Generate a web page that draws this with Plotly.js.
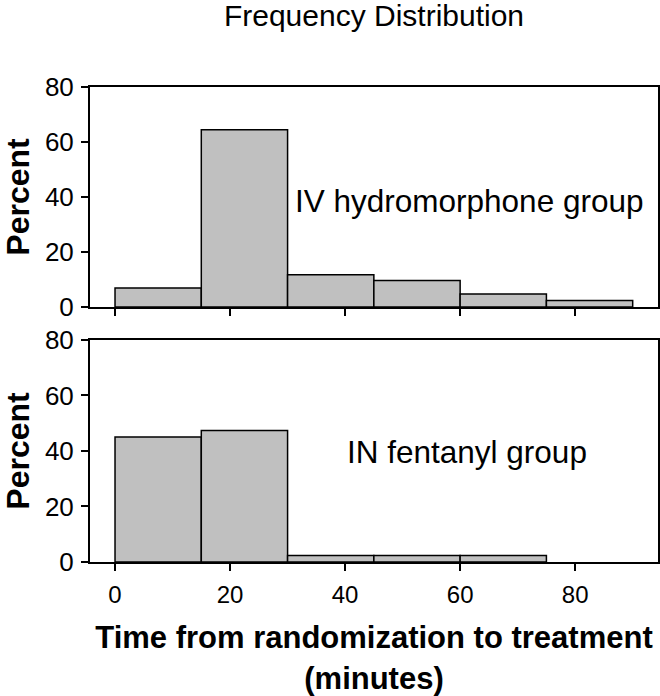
<!DOCTYPE html>
<html>
<head>
<meta charset="utf-8">
<script src="https://cdn.plot.ly/plotly-3.0.1.min.js"></script>
<style>html,body{margin:0;padding:0;background:#fff;}#chart{width:660px;height:696px;}</style>
</head>
<body>
<div id="chart"></div>
<script>
// Bin centers (minutes), 15-minute bins
const binCenters = [7.5, 22.5, 37.5, 52.5, 67.5, 82.5];
const binWidth = [15, 15, 15, 15, 15, 15];
// Percent per bin (null = empty bin, no bar drawn)
const ivHydromorphone = [6.9, 64.5, 11.7, 9.6, 4.7, 2.4];
const inFentanyl = [45.0, 47.4, 2.3, 2.3, 2.3, null];
const xTicks = [0, 20, 40, 60, 80];
const yTicks = [0, 20, 40, 60, 80];
const panelLabels = ["IV hydromorphone group", "IN fentanyl group"];

const FONT = "Liberation Sans, Arial, sans-serif";
const barStyle = {color: "#c0c0c0", line: {color: "#000", width: 1.5}};

const traces = [
  {type: "bar", x: binCenters, y: ivHydromorphone, width: binWidth, marker: barStyle, xaxis: "x", yaxis: "y", hoverinfo: "x+y"},
  {type: "bar", x: binCenters, y: inFentanyl, width: binWidth, marker: barStyle, xaxis: "x2", yaxis: "y2", hoverinfo: "x+y"}
];

const xRange = [-4.35, 94.4];
const axisCommon = {
  showgrid: false, zeroline: false, showline: true, linecolor: "#000", linewidth: 2,
  mirror: true, ticks: "outside", ticklen: 7, tickwidth: 2, tickcolor: "#000"
};

const layout = {
  width: 660, height: 696,
  margin: {l: 90, r: 2, t: 87, b: 134},
  paper_bgcolor: "#fff", plot_bgcolor: "#fff",
  showlegend: false, bargap: 0,
  font: {family: FONT, color: "#000"},
  title: {text: "Frequency Distribution", font: {family: FONT, size: 30, color: "#000"},
          x: 374 / 660, xanchor: "center", xref: "container", y: 1 - 15 / 696, yanchor: "middle", yref: "container", pad: {t: 0, b: 0}},
  xaxis: Object.assign({}, axisCommon, {domain: [0, 1], range: xRange, anchor: "y", tickvals: xTicks, showticklabels: false}),
  yaxis: Object.assign({}, axisCommon, {domain: [0.5368, 1], range: [0, 80], anchor: "x", tickvals: yTicks,
          tickfont: {size: 26, family: FONT}, ticklabelstandoff: 2,
          title: {text: "<b>Percent</b>", font: {size: 32, family: FONT}, standoff: 14}}),
  xaxis2: Object.assign({}, axisCommon, {domain: [0, 1], range: xRange, anchor: "y2", tickvals: xTicks,
          tickfont: {size: 24, family: FONT}, ticklabelstandoff: 3,
          title: {text: "<b>Time from randomization to treatment<br>(minutes)</b>", font: {size: 31, family: FONT}, standoff: 20}}),
  yaxis2: Object.assign({}, axisCommon, {domain: [0, 0.4674], range: [0, 80], anchor: "x2", tickvals: yTicks,
          tickfont: {size: 26, family: FONT}, ticklabelstandoff: 2,
          title: {text: "<b>Percent</b>", font: {size: 32, family: FONT}, standoff: 14}}),
  annotations: [
    {text: panelLabels[0], x: 31, y: 38.6, xref: "x", yref: "y", xanchor: "left", yanchor: "middle", showarrow: false, font: {size: 31.5, family: FONT, color: "#000"}},
    {text: panelLabels[1], x: 40, y: 39.5, xref: "x2", yref: "y2", xanchor: "left", yanchor: "middle", showarrow: false, font: {size: 31.5, family: FONT, color: "#000"}}
  ]
};

Plotly.newPlot("chart", traces, layout, {displayModeBar: false, staticPlot: true});
</script>
</body>
</html>
